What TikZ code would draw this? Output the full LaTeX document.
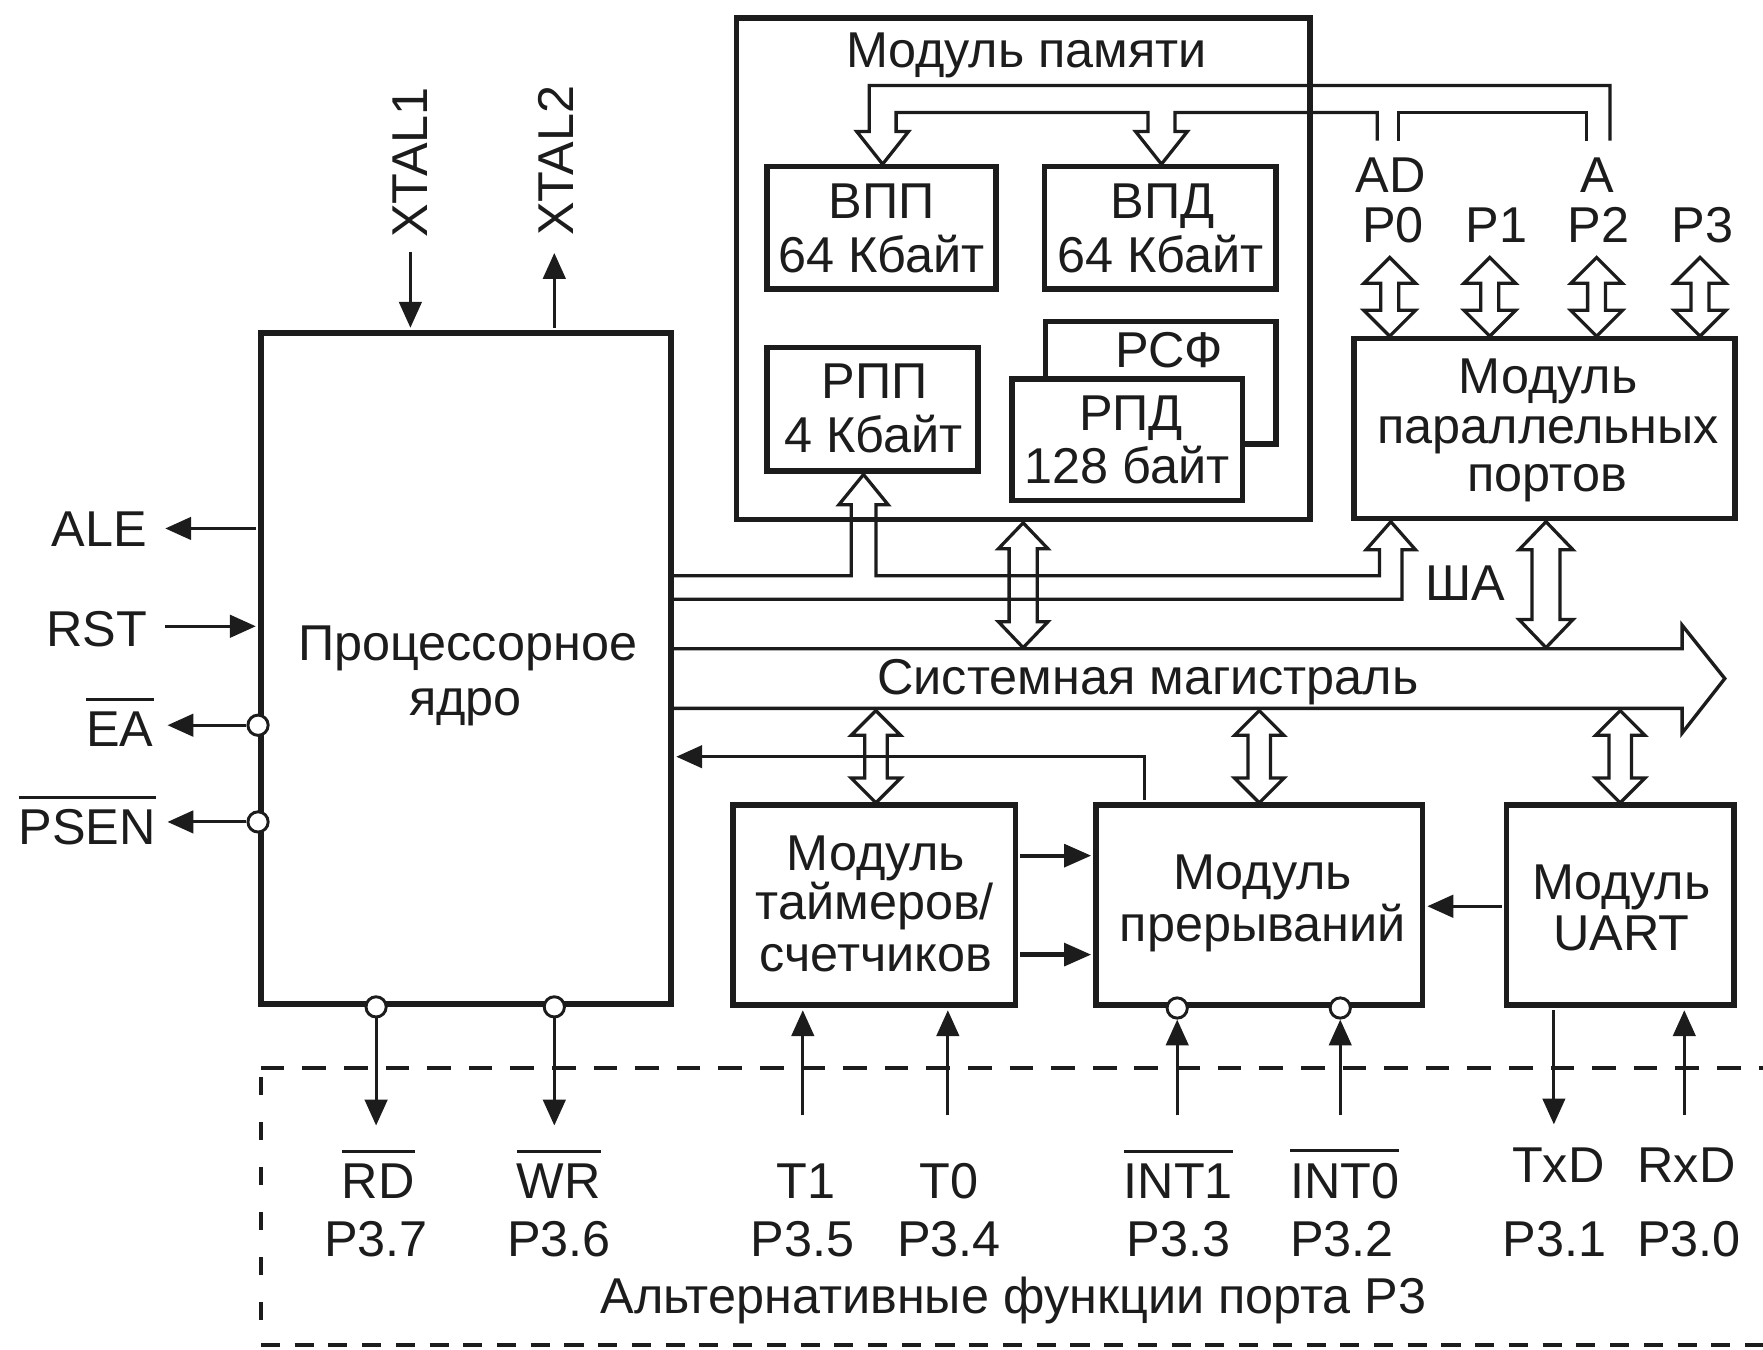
\documentclass[tikz,border=0pt]{standalone}
\usepackage{fontspec}
\setmainfont{Liberation Sans}
\usetikzlibrary{arrows.meta}
\definecolor{ink}{RGB}{28,28,28}
\newcommand\ovl[1]{\setbox0\hbox{#1}\rlap{\raisebox{\dimexpr\ht0+4.9pt\relax}{\rule{\wd0}{1.3pt}}}\box0}
\newcommand\dblarrow[6]{\draw[bus] (#1,#2) -- ({#1+#5},{#2+#6}) -- ({#1+#4},{#2+#6}) -- ({#1+#4},{#3-#6}) -- ({#1+#5},{#3-#6}) -- (#1,#3) -- ({#1-#5},{#3-#6}) -- ({#1-#4},{#3-#6}) -- ({#1-#4},{#2+#6}) -- ({#1-#5},{#2+#6}) -- cycle;}
\begin{document}
\begin{tikzpicture}[x=0.5pt,y=-0.5pt,font=\fontsize{22.4}{23}\selectfont,
 blk/.style={draw=ink,line width=2.5pt,fill=white,inner sep=0pt},
 txt/.style={anchor=base,inner sep=0pt,text=ink},
 sig/.style={draw=ink,line width=1.35pt},
 arr/.style={sig,-{Triangle[length=11.5pt,width=10pt]}},
 thk/.style={draw=ink,line width=1.9pt,-{Triangle[length=12pt,width=10pt]}},
 bus/.style={draw=ink,line width=1.45pt,line join=miter,miter limit=10},
 pin/.style={circle,draw=ink,line width=1.3pt,fill=white,minimum size=9pt,inner sep=0pt},
 dsh/.style={draw=ink,line width=1.6pt}]
\path[use as bounding box,fill=white] (0,0) rectangle (1568,1200);
% boxes
\node[blk,minimum width=255pt,minimum height=223pt] (mem) at (910,239) {};
\node[blk,minimum width=182.5pt,minimum height=298.5pt] (core) at (414.5,594.5) {};
\node[blk,minimum width=102pt,minimum height=54.5pt] (vpp) at (784,202.5) {};
\node[blk,minimum width=103pt,minimum height=54.5pt] (vpd) at (1032,202.5) {};
\node[blk,minimum width=94pt,minimum height=55pt] (rpp) at (776,364) {};
\node[blk,minimum width=102.5pt,minimum height=54.5pt] (rsf) at (1032.5,340.5) {};
\node[blk,minimum width=102.5pt,minimum height=54pt] (rpd) at (1002.5,391) {};
\node[blk,minimum width=169.5pt,minimum height=80pt] (ppm) at (1373.5,381) {};
\node[blk,minimum width=125.5pt,minimum height=89pt] (tmr) at (777.5,805) {};
\node[blk,minimum width=145pt,minimum height=89pt] (intr) at (1120,805) {};
\node[blk,minimum width=101pt,minimum height=89pt] (uart) at (1441,805) {};
% box texts
\node[txt] (memT) at (913,60) {Модуль памяти};
\node[txt] (vppA) at (784,194) {ВПП};
\node[txt] (vppB) at (784,242) {64 Кбайт};
\node[txt] (vpdA) at (1034,194) {ВПД};
\node[txt] (vpdB) at (1032,242) {64 Кбайт};
\node[txt] (rppA) at (778,354) {РПП};
\node[txt] (rppB) at (777,402) {4 Кбайт};
\node[txt] (rsfT) at (1040,327) {РСФ};
\node[txt] (rpdA) at (1006,383) {РПД};
\node[txt] (rpdB) at (1002.5,430) {128 байт};
\node[txt] (ppmA) at (1377,350) {Модуль};
\node[txt] (ppmB) at (1377,394) {параллельных};
\node[txt] (ppmC) at (1376,437) {портов};
\node[txt] (coreA) at (416,587) {Процессорное};
\node[txt] (coreB) at (414,636) {ядро};
\node[txt] (tmrA) at (779,774) {Модуль};
\node[txt] (tmrB) at (778,818) {таймеров/};
\node[txt] (tmrC) at (779,864) {счетчиков};
\node[txt] (intrA) at (1123,791.5) {Модуль};
\node[txt] (intrB) at (1123,837.5) {прерываний};
\node[txt] (uartA) at (1442,800) {Модуль};
\node[txt] (uartB) at (1442,845) {UART};
\node[txt] (busT) at (1021,618) {Системная магистраль};
\node[txt] (sha) at (1303,534) {ША};
% port labels
\node[txt] (ad) at (1237,171) {AD};
\node[txt] (aa) at (1421,171) {A};
\node[txt] (p0) at (1239,216) {P0};
\node[txt] (p1) at (1331,216) {P1};
\node[txt] (p2) at (1421.5,216) {P2};
\node[txt] (p3) at (1514,216) {P3};
% left labels
\node[txt,anchor=base east] (ale) at (131,486) {ALE};
\node[txt,anchor=base east] (rst) at (131,575) {RST};
\node[txt,anchor=base east] (ea) at (137,664) {\ovl{EA}};
\node[txt,anchor=base east] (psen) at (139,751.5) {\ovl{PSEN}};
\node[rotate=90,inner sep=0pt,text=ink] (xt1) at (365,144.5) {XTAL1};
\node[rotate=90,inner sep=0pt,text=ink] (xt2) at (494,143) {XTAL2};
% bottom labels
\node[txt] (rd) at (336.5,1066) {\ovl{RD}};
\node[txt] (wr) at (497,1066) {\ovl{WR}};
\node[txt] (t1) at (717,1066) {T1};
\node[txt] (t0) at (844,1066) {T0};
\node[txt] (int1) at (1048,1066) {\ovl{INT1}};
\node[txt] (int0) at (1196,1066) {\ovl{INT0}};
\node[txt] (txd) at (1386,1052) {TxD};
\node[txt] (rxd) at (1500,1052) {RxD};
\node[txt] (p37) at (334.5,1117.6) {P3.7};
\node[txt] (p36) at (497,1117.6) {P3.6};
\node[txt] (p35) at (714,1117.6) {P3.5};
\node[txt] (p34) at (844,1117.6) {P3.4};
\node[txt] (p33) at (1048,1117.6) {P3.3};
\node[txt] (p32) at (1193.5,1117.6) {P3.2};
\node[txt] (p31) at (1382.5,1117.6) {P3.1};
\node[txt] (p30) at (1502,1117.6) {P3.0};
\node[txt] (alt) at (901.5,1168) {Альтернативные функции порта P3};
% top memory bus
\draw[bus] (1225,125) -- (1225,100) -- (1045,100) -- (1045,117) -- (1056,117) -- (1033,146) -- (1010,117) -- (1021,117) -- (1021,100) -- (797,100) -- (797,117) -- (808,117) -- (785,146) -- (762,117) -- (773,117) -- (773,76) -- (1432,76) -- (1432,125);
\draw[bus] (1244,125) -- (1244,100) -- (1411,100) -- (1411,125);
% address bus
\draw[bus] (core.east |- 0,512) -- (757,512) -- (757,449) -- (746,449) -- (768,422) -- (790,449) -- (779,449) -- (779,512) -- (1227,512) -- (1227,489) -- (1215,489) -- (1237,464) -- (1259,489) -- (1247,489) -- (1247,533) -- (core.east |- 0,533);
% system bus
\draw[bus,line width=1.5pt] (core.east |- 0,577) -- (1496,577) -- (1496,556) -- (1534,603.5) -- (1496,652) -- (1496,630) -- (core.east |- 0,630);
% double arrows
\dblarrow{910}{465}{576}{12.5}{22}{23}
\dblarrow{1375}{464}{576}{12.5}{24}{25}
\dblarrow{779}{632}{714}{10}{22}{22}
\dblarrow{1120}{632}{714}{10}{22}{22}
\dblarrow{1441}{632}{714}{10}{22}{22}
\dblarrow{1236}{229}{299}{8}{23}{23}
\dblarrow{1325}{229}{299}{8}{23}{23}
\dblarrow{1420}{229}{299}{8}{23}{23}
\dblarrow{1512}{229}{299}{8}{23}{23}
% XTAL
\coordinate (x1) at (365,224);
\draw[arr,shorten >=1pt] (x1) -- (x1 |- core.north);
\coordinate (x2) at (493,225);
\draw[arr,shorten <=1pt] (x2 |- core.north) -- (x2);
% left signals
\coordinate (alep) at (147,470);
\draw[arr,shorten <=1pt] (alep -| core.west) -- (alep);
\coordinate (rstp) at (147,557);
\draw[arr,shorten >=1pt] (rstp) -- (rstp -| core.west);
\coordinate (eap) at (149,645);
\node[pin] (eac) at (eap -| core.west) {};
\draw[arr] (eac.west) -- (eap);
\coordinate (psp) at (149,731);
\node[pin] (psc) at (psp -| core.west) {};
\draw[arr] (psc.west) -- (psp);
% bottom of core
\coordinate (rdp) at (334.5,1001);
\node[pin] (rdc) at (rdp |- core.south) {};
\draw[arr] (rdc.south) -- (rdp);
\coordinate (wrp) at (493,1001);
\node[pin] (wrc) at (wrp |- core.south) {};
\draw[arr] (wrc.south) -- (wrp);
% timers
\coordinate (t1p) at (714,992);
\draw[arr,shorten >=1pt] (t1p) -- (t1p |- tmr.south);
\coordinate (t0p) at (843,992);
\draw[arr,shorten >=1pt] (t0p) -- (t0p |- tmr.south);
% interrupts
\coordinate (i1p) at (1047,992);
\node[pin] (i1c) at (i1p |- intr.south) {};
\draw[arr] (i1p) -- (i1c.south);
\coordinate (i0p) at (1192,992);
\node[pin] (i0c) at (i0p |- intr.south) {};
\draw[arr] (i0p) -- (i0c.south);
% uart
\coordinate (txp) at (1382,1000);
\draw[arr,shorten <=1pt] (txp |- uart.south) -- (txp);
\coordinate (rxp) at (1498,992);
\draw[arr,shorten >=1pt] (rxp) -- (rxp |- uart.south);
% module links
\coordinate (ta) at (0,761);
\draw[thk,shorten >=1pt,shorten <=1pt] (ta -| tmr.east) -- (ta -| intr.west);
\coordinate (tb) at (0,849);
\draw[thk,shorten >=1pt,shorten <=1pt] (tb -| tmr.east) -- (tb -| intr.west);
\coordinate (ua) at (0,806);
\draw[arr,shorten >=1pt,shorten <=1pt] (ua -| uart.west) -- (ua -| intr.east);
\coordinate (fbk) at (1017.5,673);
\draw[arr,shorten >=1pt,shorten <=1pt] (fbk |- intr.north) -- (fbk) -- (fbk -| core.east);
% port P3 frame
\draw[dsh,dash pattern=on 10.5pt off 8pt] (232,950) -- (1568,950);
\draw[dsh,dash pattern=on 8pt off 12pt] (232,958) -- (232,1196);
\draw[dsh,dash pattern=on 8.5pt off 6.5pt] (232,1196) -- (1568,1196);
\end{tikzpicture}
\end{document}
